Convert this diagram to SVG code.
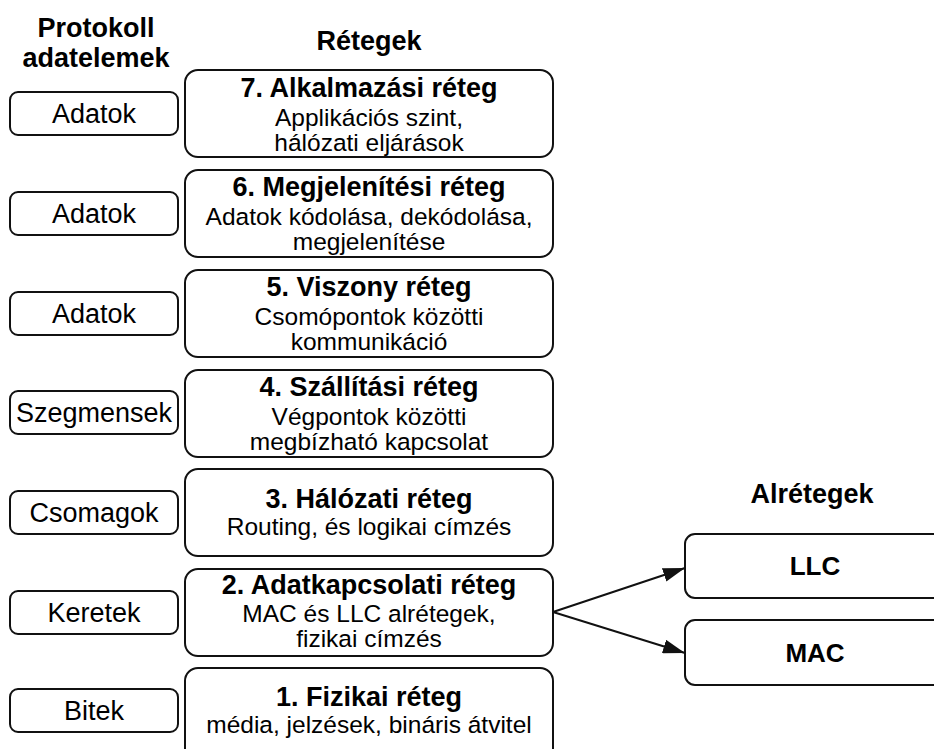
<svg xmlns="http://www.w3.org/2000/svg" width="934" height="749" viewBox="0 0 934 749">
<defs>
<style>
.box{fill:#fff;stroke:#111;stroke-width:2}
.t{font-family:"Liberation Sans",Arial,sans-serif;fill:#000;text-anchor:middle}
.h{font-weight:bold;font-size:27px}
.s{font-size:24.5px}
.l{font-size:27px}
.sub{font-weight:bold;font-size:26px}
.con{stroke:#111;stroke-width:2;fill:none}
</style>
<marker id="arr" markerWidth="22" markerHeight="14" refX="22" refY="7" orient="auto" markerUnits="userSpaceOnUse" viewBox="0 0 22 14">
<path d="M0,0 L22,7 L0,14 z" fill="#111"/>
</marker>
</defs>
<rect width="934" height="749" fill="#fff"/>
<g id="headers">
<text class="t h" x="96" y="37">Protokoll</text>
<text class="t h" x="96" y="67">adatelemek</text>
<text class="t h" x="369" y="50">Rétegek</text>
<text class="t h" x="812" y="503">Alrétegek</text>
</g>
<g id="pdu-adatok-7"><rect class="box" x="10" y="92" width="168" height="43" rx="8"/><text class="t l" x="94" y="123">Adatok</text></g>
<g id="pdu-adatok-6"><rect class="box" x="10" y="192" width="168" height="43" rx="8"/><text class="t l" x="94" y="223">Adatok</text></g>
<g id="pdu-adatok-5"><rect class="box" x="10" y="292" width="168" height="43" rx="8"/><text class="t l" x="94" y="323">Adatok</text></g>
<g id="pdu-szegmensek"><rect class="box" x="10" y="391" width="168" height="43" rx="8"/><text class="t l" x="94" y="422">Szegmensek</text></g>
<g id="pdu-csomagok"><rect class="box" x="10" y="491" width="168" height="43" rx="8"/><text class="t l" x="94" y="522">Csomagok</text></g>
<g id="pdu-keretek"><rect class="box" x="10" y="591" width="168" height="43" rx="8"/><text class="t l" x="94" y="622">Keretek</text></g>
<g id="pdu-bitek"><rect class="box" x="10" y="689" width="168" height="43" rx="8"/><text class="t l" x="94" y="720">Bitek</text></g>

<g id="layer7"><rect class="box" x="185" y="70" width="368" height="87" rx="13"/>
<text class="t h" x="369" y="97">7. Alkalmazási réteg</text>
<text class="t s" x="369" y="126">Applikációs szint,</text>
<text class="t s" x="369" y="151">hálózati eljárások</text></g>
<g id="layer6"><rect class="box" x="185" y="170" width="368" height="87" rx="13"/>
<text class="t h" x="369" y="196">6. Megjelenítési réteg</text>
<text class="t s" x="369" y="225">Adatok kódolása, dekódolása,</text>
<text class="t s" x="369" y="250">megjelenítése</text></g>
<g id="layer5"><rect class="box" x="185" y="270" width="368" height="87" rx="13"/>
<text class="t h" x="369" y="296">5. Viszony réteg</text>
<text class="t s" x="369" y="325">Csomópontok közötti</text>
<text class="t s" x="369" y="350">kommunikáció</text></g>
<g id="layer4"><rect class="box" x="185" y="370" width="368" height="87" rx="13"/>
<text class="t h" x="369" y="396">4. Szállítási réteg</text>
<text class="t s" x="369" y="425">Végpontok közötti</text>
<text class="t s" x="369" y="450">megbízható kapcsolat</text></g>
<g id="layer3"><rect class="box" x="185" y="469" width="368" height="87" rx="13"/>
<text class="t h" x="369" y="508">3. Hálózati réteg</text>
<text class="t s" x="369" y="535">Routing, és logikai címzés</text></g>
<g id="layer2"><rect class="box" x="185" y="569" width="368" height="87" rx="13"/>
<text class="t h" x="369" y="594">2. Adatkapcsolati réteg</text>
<text class="t s" x="369" y="622">MAC és LLC alrétegek,</text>
<text class="t s" x="369" y="647">fizikai címzés</text></g>
<g id="layer1"><rect class="box" x="185" y="668" width="368" height="100" rx="13"/>
<text class="t h" x="369" y="706">1. Fizikai réteg</text>
<text class="t s" x="369" y="733">média, jelzések, bináris átvitel</text></g>

<g id="llc"><rect class="box" x="685" y="534" width="280" height="64" rx="10"/><text class="t sub" x="815" y="575">LLC</text></g>
<g id="mac"><rect class="box" x="685" y="620" width="280" height="65" rx="10"/><text class="t sub" x="815" y="662">MAC</text></g>

<g id="connectors">
<line class="con" x1="553" y1="612" x2="685" y2="568" marker-end="url(#arr)"/>
<line class="con" x1="553" y1="612" x2="685" y2="653" marker-end="url(#arr)"/>
</g>
</svg>
